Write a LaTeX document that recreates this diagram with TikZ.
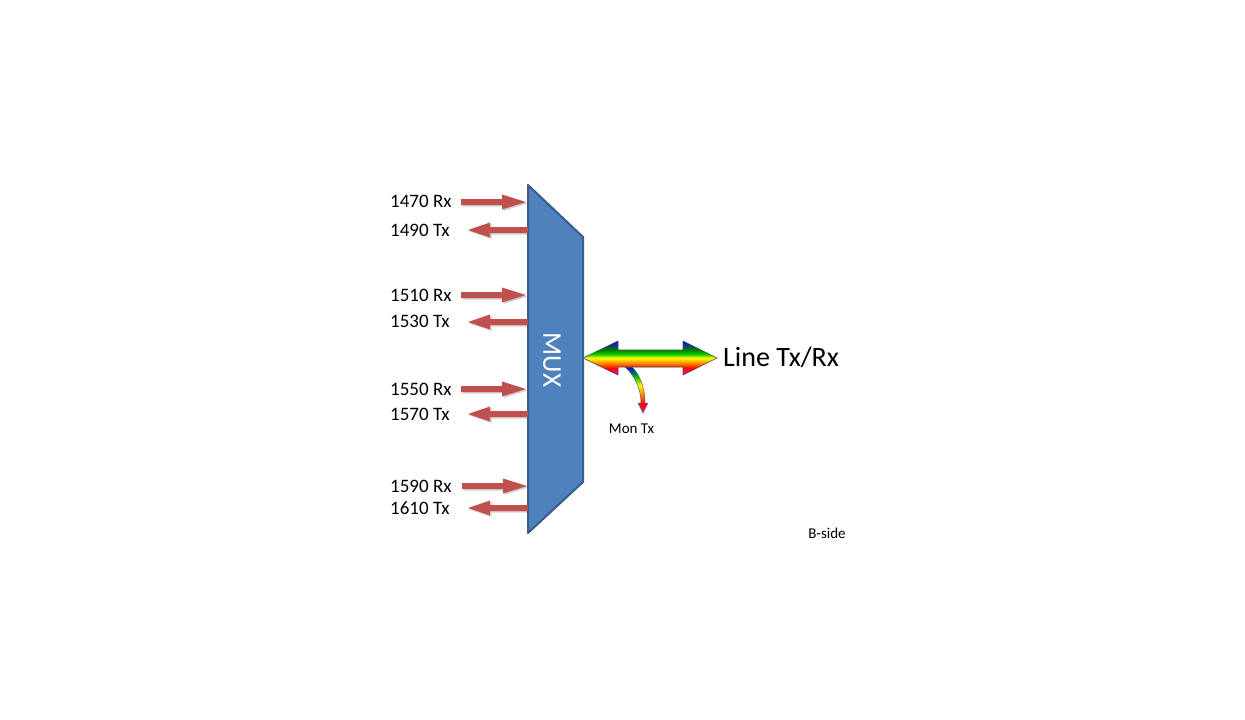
\documentclass[tikz,border=0pt]{standalone}
\usepackage{fontspec}
\setmainfont{Carlito}
\definecolor{muxfill}{HTML}{4F81BD}
\definecolor{muxline}{HTML}{385D8A}
\definecolor{arrred}{HTML}{C0504D}
\pgfdeclareverticalshading{rainbowsh}{100bp}{%
  color(0bp)=(magenta!80!red);
  color(25bp)=(magenta!80!red);
  color(35bp)=(red);
  color(42bp)=(orange);
  color(50bp)=(yellow);
  color(56bp)=(green!80!black);
  color(62bp)=(green!50!black);
  color(75bp)=(blue);
  color(100bp)=(blue)}
\pgfdeclareverticalshading{monsh}{100bp}{%
  color(0bp)=(magenta!80!red);
  color(25bp)=(magenta!80!red);
  color(35bp)=(red);
  color(45bp)=(orange);
  color(55bp)=(yellow);
  color(65bp)=(green!70!black);
  color(75bp)=(blue);
  color(100bp)=(blue)}
\tikzset{
  lbl/.style={anchor=west, inner sep=0pt, font=\fontsize{19}{19}\selectfont},
  redarr/.style={fill=arrred, draw=none},
  shadowarr/.style={fill=black, opacity=0.18, draw=none},
  rxarr/.pic={
    \fill[shadowarr] (1.5,1.5) -- (42.5,-1.5) -- (42.5,-6) -- (66.5,1.5) -- (42.5,9) -- (42.5,4.5) -- (1.5,4.5) -- cycle;
    \fill[redarr] (0,-3) -- (41,-3) -- (41,-7.5) -- (65,0) -- (41,7.5) -- (41,3) -- (0,3) -- cycle;
  },
  txarr/.pic={
    \fill[shadowarr] (1.5,1.5) -- (23.5,-6) -- (23.5,-1.5) -- (60,-1.5) -- (60,4.5) -- (23.5,4.5) -- (23.5,9) -- cycle;
    \fill[redarr] (0,0) -- (22,-7.5) -- (22,-3) -- (60,-3) -- (60,3) -- (22,3) -- (22,7.5) -- cycle;
  }
}
\begin{document}
\begin{tikzpicture}[x=1pt,y=-1pt]
\useasboundingbox[fill=white] (0,0) rectangle (1245,720);
% MUX trapezoid
\draw[fill=muxfill, draw=muxline, line width=2pt, line join=round]
  (528,185) -- (583,237) -- (583,482) -- (528,533) -- cycle;
\node[rotate=-90, text=white, inner sep=0pt, font=\fontsize{27}{27}\selectfont] (mux) at (552,360) {MUX};
% labels
\node[lbl] (l1470) at (390,201) {1470 Rx};
\node[lbl] (l1490) at (390,230) {1490 Tx};
\node[lbl] (l1510) at (390,295) {1510 Rx};
\node[lbl] (l1530) at (390,321) {1530 Tx};
\node[lbl] (l1550) at (390,389) {1550 Rx};
\node[lbl] (l1570) at (390,414) {1570 Tx};
\node[lbl] (l1590) at (390,486) {1590 Rx};
\node[lbl] (l1610) at (390,508) {1610 Tx};
% arrows
\pic at (461,202) {rxarr};
\pic at (468,230) {txarr};
\pic at (461,295) {rxarr};
\pic at (468,322) {txarr};
\pic at (461,389) {rxarr};
\pic at (468,414) {txarr};
\pic at (462,486) {rxarr};
\pic at (468,508) {txarr};
% Mon Tx curved arrow
\path[shading=monsh, draw=black!60, line width=0.5pt, line join=miter]
  (625,367) .. controls (634,375) and (641,388) .. (641,403)
  -- (638,403) -- (643,413) -- (648,403) -- (645,403)
  .. controls (645,386) and (639,374) .. (632,367) -- cycle;
% double arrow
\path[shading=rainbowsh, draw=black!70, line width=0.6pt, line join=miter]
  (583,358) -- (618,341) -- (618,350) -- (683,350) -- (683,341) -- (717,358)
  -- (683,375) -- (683,367) -- (618,367) -- (618,375) -- cycle;
\node[anchor=west, inner sep=0pt, font=\fontsize{28}{28}\selectfont] (line) at (723,357) {Line Tx/Rx};
\node[inner sep=0pt, font=\fontsize{15}{15}\selectfont] (mon) at (631.5,429) {Mon Tx};
\node[inner sep=0pt, font=\fontsize{15}{15}\selectfont] (bside) at (827,533) {B-side};
\end{tikzpicture}
\end{document}
